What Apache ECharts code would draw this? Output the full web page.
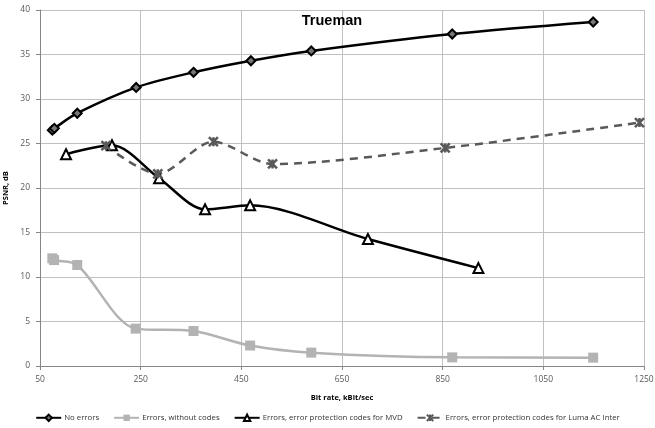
<!DOCTYPE html>
<html><head><meta charset="utf-8">
<script src="https://cdn.jsdelivr.net/npm/echarts@6/dist/echarts.min.js"></script>
<style>html,body{margin:0;padding:0;background:#fff}#c{width:655px;height:428px}</style>
</head><body><div id="c"></div>
<script>
const noErrors = [[74.5,26.5],[78.5,26.7],[124,28.4],[241,31.3],[355,33.0],[469,34.3],[589,35.4],[869,37.3],[1149,38.65]];
const errNoCodes = [[74.5,12.1],[78,11.9],[124,11.35],[240,4.2],[355,3.93],[467.5,2.3],[589,1.5],[869,0.97],[1149,0.94]];
const errMVD = [[101.7,23.8],[193,24.8],[286.6,21.1],[378,17.6],[467.5,18.05],[701.5,14.27],[921,11.0]];
const errLuma = [[181,24.75],[284,21.6],[394.5,25.2],[512,22.7],[855,24.5],[1241,27.35]];
const seriesNames = ['No errors','Errors, without codes','Errors, error protection codes for MVD','Errors, error protection codes for Luma AC Inter'];

const chart = echarts.init(document.getElementById('c'));
const font = 'Open Sans';
const star = 'path://M0,0 L10,10 M10,0 L0,10 M5,0 L5,10';
chart.setOption({
  animation:false,
  title:{text:'Trueman',left:327,top:8,textAlign:'center',textStyle:{fontFamily:'Liberation Sans',fontWeight:'bold',fontSize:14.5,color:'#000'}},
  grid:{left:40,right:11,top:10,bottom:62,containLabel:false,outerBoundsMode:'none'},
  legend:{bottom:1,left:'center',itemGap:14,itemWidth:25,itemHeight:8,textStyle:{fontFamily:font,fontSize:7.8,color:'#333',padding:[0,0,0,-2]},data:seriesNames},
  xAxis:{type:'value',min:50,max:1250,interval:200,name:'Bit rate, kBit/sec',nameLocation:'middle',nameGap:28,
    nameTextStyle:{fontFamily:font,fontWeight:'bold',fontSize:7.5,color:'#000'},
    axisLine:{lineStyle:{color:'#868686'}},axisTick:{show:true,length:4,lineStyle:{color:'#868686'}},
    axisLabel:{fontFamily:font,fontSize:8.5,color:'#595959',margin:9,formatter:v=>String(v)},
    splitLine:{lineStyle:{color:'#c0c0c0'}}},
  yAxis:{type:'value',min:0,max:40,interval:5,name:'PSNR, dB',nameLocation:'middle',nameGap:30,
    nameTextStyle:{fontFamily:font,fontWeight:'bold',fontSize:7.5,color:'#000'},
    axisLine:{show:true,lineStyle:{color:'#868686'}},axisTick:{show:true,length:4,lineStyle:{color:'#868686'}},
    axisLabel:{fontFamily:font,fontSize:8.5,color:'#595959',margin:10},
    splitLine:{lineStyle:{color:'#c0c0c0'}}},
  series:[
    {name:seriesNames[0],type:'line',data:noErrors,smooth:0.3,symbol:'diamond',symbolSize:9,
     lineStyle:{color:'#000',width:2.5},itemStyle:{color:'#777',borderColor:'#000',borderWidth:2}},
    {name:seriesNames[1],type:'line',data:errNoCodes,smooth:0.3,symbol:'rect',symbolSize:10,
     lineStyle:{color:'#b3b3b3',width:2.5},itemStyle:{color:'#b3b3b3',borderColor:'#b3b3b3',borderWidth:0}},
    {name:seriesNames[2],type:'line',data:errMVD,smooth:0.3,symbol:'triangle',symbolSize:10,
     lineStyle:{color:'#000',width:2.5},itemStyle:{color:'#fff',borderColor:'#000',borderWidth:2}},
    {name:seriesNames[3],type:'line',data:errLuma,smooth:0.3,symbol:star,symbolSize:9,
     lineStyle:{color:'#595959',width:2.5,type:[8,6]},itemStyle:{color:'#595959',borderColor:'#595959',borderWidth:2.5}}
  ]
});
</script></body></html>
